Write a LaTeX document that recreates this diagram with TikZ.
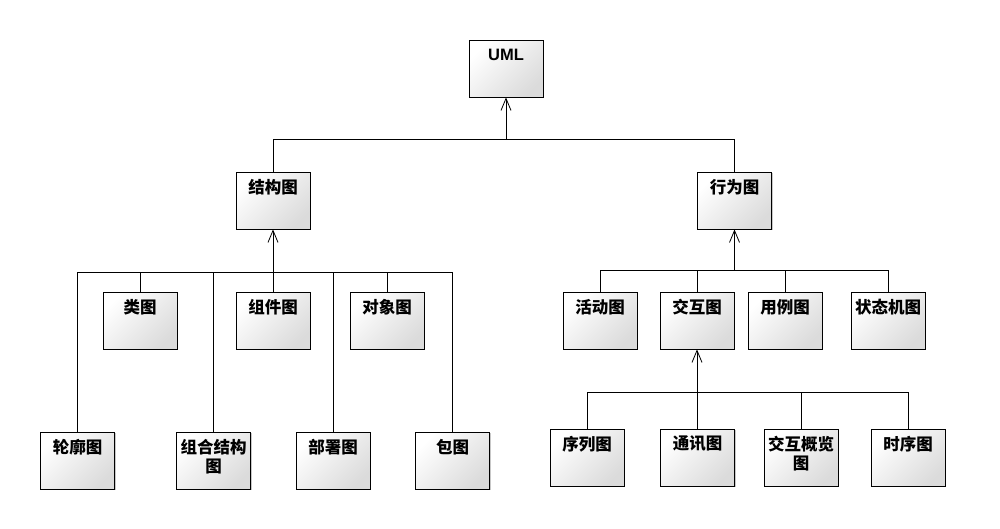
\documentclass[tikz,border=0pt]{standalone}
\usepackage{fontspec}
\newfontfamily\cjk{Noto Sans CJK SC}
\newfontfamily\latin{Liberation Sans}
\usetikzlibrary{arrows.meta,shadows}

% text sits at the top of each box
\newcommand\boxlabel[2][7pt]{\parbox[c][57pt][t]{72pt}{\centering\vspace*{#1}#2\par}}

\tikzset{
  diagram/.style={draw, line width=0.8pt, inner sep=0pt,
    minimum width=74pt, minimum height=57pt,
    top color=white, bottom color=black!14, shading angle=45,
    drop shadow={shadow xshift=1.2pt, shadow yshift=-1.2pt, fill=black!22, opacity=1},
    font=\cjk\bfseries\fontsize{16.5}{19}\selectfont},
  link/.style={line width=0.8pt},
  gen/.style={line width=0.8pt, -{Straight Barb[length=12pt,width=10pt]}}
}

\begin{document}
\begin{tikzpicture}[x=1pt,y=-1pt]
  \useasboundingbox (0,0) rectangle (1000,528);
% Root
  \node[diagram] (uml) at (506,68.5) {\boxlabel[9pt]{\latin\bfseries UML}};
  \node[diagram] (struct) at (273,200.5) {\boxlabel{结构图}};
  \node[diagram] (behav) at (734.5,200.5) {\boxlabel{行为图}};
  \coordinate (umlbus) at (506,139);
  \draw[link] (struct.north) |- (umlbus);
  \draw[link] (behav.north) |- (umlbus);
  \draw[gen] (umlbus) -- (uml.south);
% Structure diagrams
  \node[diagram] (class) at (140,320.5) {\boxlabel{类图}};
  \node[diagram] (comp) at (273,320.5) {\boxlabel{组件图}};
  \node[diagram] (object) at (387,320.5) {\boxlabel{对象图}};
  \node[diagram] (profile) at (77.5,460.5) {\boxlabel{轮廓图}};
  \node[diagram] (composite) at (213.5,460.5) {\boxlabel{组合结构\\图}};
  \node[diagram] (deploy) at (333,460.5) {\boxlabel{部署图}};
  \node[diagram] (pkg) at (452.5,460.5) {\boxlabel{包图}};
  \coordinate (structbus) at (273,272);
  \foreach \c in {class,comp,object,profile,composite,deploy,pkg}
    \draw[link] (\c.north) |- (structbus);
  \draw[gen] (structbus) -- (struct.south);
% Behaviour diagrams
  \node[diagram] (activity) at (600,320.5) {\boxlabel{活动图}};
  \node[diagram] (interact) at (697,320.5) {\boxlabel{交互图}};
  \node[diagram] (usecase) at (785,320.5) {\boxlabel{用例图}};
  \node[diagram] (state) at (888,320.5) {\boxlabel{状态机图}};
  \coordinate (behavbus) at (734.5,270);
  \foreach \c in {activity,interact,usecase,state}
    \draw[link] (\c.north) |- (behavbus);
  \draw[gen] (behavbus) -- (behav.south);
% Interaction diagrams
  \node[diagram] (seq) at (587,457.5) {\boxlabel{序列图}};
  \node[diagram] (comm) at (697.5,457.5) {\boxlabel{通讯图}};
  \node[diagram] (overview) at (801,457.5) {\boxlabel{交互概览\\图}};
  \node[diagram] (timing) at (908,457.5) {\boxlabel{时序图}};
  \coordinate (interactbus) at (697,392);
  \foreach \c in {seq,comm,overview,timing}
    \draw[link] (\c.north) |- (interactbus);
  \draw[gen] (interactbus) -- (interact.south);
\end{tikzpicture}
\end{document}
